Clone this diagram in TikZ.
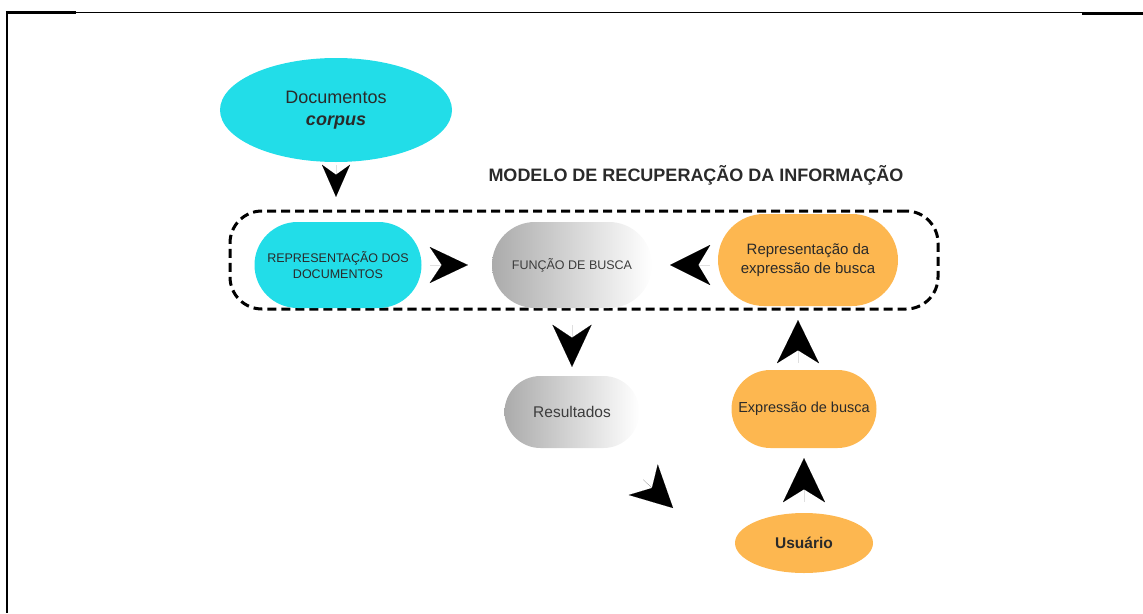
\documentclass[tikz,border=0pt]{standalone}
\usepackage{fontspec}
\setmainfont{Liberation Sans}
\usetikzlibrary{arrows.meta,shapes.geometric,calc}
\definecolor{cyanf}{HTML}{22DDE8}
\definecolor{orangef}{HTML}{FDB750}
\definecolor{grayl}{HTML}{ABABAB}
\definecolor{txt}{HTML}{2A2A2A}
\definecolor{txtg}{HTML}{3C3C3C}
\begin{document}
\begin{tikzpicture}[x=1pt,y=-1pt,
  pill/.style={inner sep=0pt, align=center, text=txt, rounded corners=#1},
  cyanpill/.style={pill=#1, fill=cyanf},
  orangepill/.style={pill=#1, fill=orangef},
  graypill/.style={pill=#1, left color=grayl, right color=white, text=txtg},
  tipA/.style n args={3}{line width=0.01pt, draw=black, -{Stealth[length=#1, width=#2, inset=#3]}},
  dashbox/.style={draw=black, line width=3pt, dash pattern=on 9pt off 5pt, rounded corners=32pt, inner sep=0pt},
  frameline/.style={draw=black}
]
\useasboundingbox (0,0) rectangle (1143,613);

% frame
\draw[frameline, line width=1pt] (7,12.5) -- (1143,12.5);
\draw[frameline, line width=3pt] (5.75,12.8) -- (76,12.8);
\draw[frameline, line width=3pt] (1082,13) -- (1143,13);
\draw[frameline, line width=2.5pt] (7,11.5) -- (7,613);

% dashed container
\node[dashbox, minimum width=708pt, minimum height=98pt] (box) at (584,260) {};

% title
\node[anchor=base, font=\bfseries\fontsize{18}{20}\selectfont, text=txt] (title) at (696,181.5) {MODELO DE RECUPERAÇÃO DA INFORMAÇÃO};

% nodes
\node[ellipse, fill=cyanf, minimum width=232pt, minimum height=104pt, inner sep=0pt, align=center, text=txt,
      font=\fontsize{18}{22}\selectfont] (doc) at (336,110) {Documentos\\\textbf{\textit{corpus}}};

\node[cyanpill=43pt, minimum width=167pt, minimum height=86pt, font=\fontsize{12.5}{16}\selectfont] (repdoc) at (338,265)
  {REPRESENTAÇÃO DOS\\DOCUMENTOS};

\node[graypill=43pt, minimum width=160pt, minimum height=86pt, font=\fontsize{12.5}{16}\selectfont] (func) at (572,265)
  {FUNÇÃO DE BUSCA};

\node[orangepill=46pt, minimum width=180pt, minimum height=92pt, font=\fontsize{15}{18.5}\selectfont] (rexpr) at (808,260)
  {Representação da\\expressão de busca};

\node[graypill=36pt, minimum width=135pt, minimum height=72pt, font=\fontsize{15.5}{18}\selectfont] (res) at (572,412)
  {Resultados};

\node[orangepill=39pt, minimum width=145pt, minimum height=78pt, font=\fontsize{14.5}{18}\selectfont] (exprb) at (804,409)
  {Expressão de busca};

\node[ellipse, fill=orangef, minimum width=138pt, minimum height=60pt, inner sep=0pt, text=txt,
      font=\bfseries\fontsize{15.5}{18}\selectfont] (usu) at (804,543) {Usuário};

\coordinate (a7) at (673,508);

% arrowheads (connectors)
\draw[tipA={32pt}{28pt}{10pt}, shorten <=3pt, shorten >=25pt] (doc.south) -- (doc.south |- repdoc.north);
\draw[tipA={38pt}{36pt}{12pt}, shorten <=8.5pt, shorten >=24pt] (repdoc.east) -- (repdoc.east -| func.west);
\draw[tipA={40pt}{40pt}{12pt}, shorten <=8pt, shorten >=18pt] (rexpr.west |- func.east) -- (func.east);
\draw[tipA={42pt}{39pt}{13pt}, shorten <=17pt, shorten >=9pt] (func.south) -- (res.north);
\draw[tipA={43pt}{42pt}{13pt}, shorten <=7pt, shorten >=14pt] ($(exprb.north)+(-6,0)$) -- ($(rexpr.south)+(-10,0)$);
\draw[tipA={44pt}{42pt}{13pt}, shorten <=11pt, shorten >=10pt] (usu.north) -- (exprb.south);
\draw[tipA={41pt}{42pt}{12pt}, shorten <=98pt] (res.center) -- (a7);
\end{tikzpicture}
\end{document}
